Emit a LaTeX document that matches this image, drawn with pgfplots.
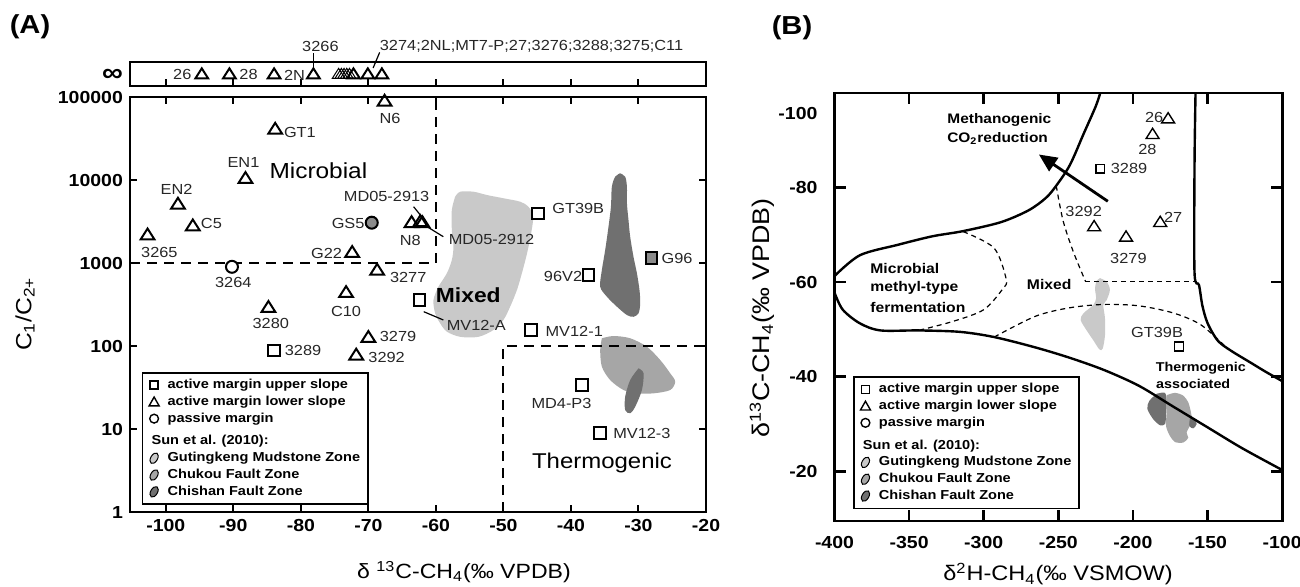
\documentclass[border=0pt]{standalone}
\usepackage{fontspec}
\setmainfont{Liberation Sans}[FakeStretch=1.12]
\usepackage{pgfplots}
\pgfplotsset{compat=1.18}
\usetikzlibrary{arrows.meta}

\definecolor{lightg}{gray}{0.79}
\definecolor{midg}{gray}{0.65}
\definecolor{darkg}{gray}{0.44}
\definecolor{markg}{gray}{0.55}
\newcommand{\fs}[1]{\fontsize{#1}{#1}\selectfont}

\tikzset{lab/.style={font=\fs{7.3}, inner sep=0.5pt, text=black!85}}
\pgfplotsset{
  panel/.style={scale only axis, axis line style={line width=1.4pt},
    tick style={line width=1pt, black}, major tick length=3.5pt, tick align=inside,
    ticklabel style={font=\bfseries\fs{8.7}}},
  otri/.style={only marks, mark=triangle, mark size=3.6pt,
    mark options={solid, draw=black, fill=white, line width=1pt, xscale=1.1}},
  gtri/.style={only marks, mark=triangle, mark size=3.6pt,
    mark options={solid, draw=black, fill=markg, line width=1pt, xscale=1.1}},
  osq/.style={only marks, mark=square, mark size=2.9pt,
    mark options={solid, draw=black, fill=white, line width=1pt}},
  gsq/.style={only marks, mark=square*, mark size=2.9pt,
    mark options={solid, draw=black, fill=markg, line width=1pt}},
  ocirc/.style={only marks, mark=*, mark size=3pt,
    mark options={solid, draw=black, fill=white, line width=1pt}},
  gcirc/.style={only marks, mark=*, mark size=3pt,
    mark options={solid, draw=black, fill=markg, line width=1pt}},
  mylegend/.style={legend style={draw=black, line width=0.9pt, fill=white,
    font=\bfseries\fs{6.5}, legend cell align=left, inner xsep=3pt, inner ysep=2pt,
    row sep=0pt, nodes={inner sep=0.9pt, text height=5pt, text depth=1.6pt},
    /tikz/every odd column/.append style={column sep=3pt}}},
}

% legend entries shared by both panels
\newcommand{\samplelegend}{%
  \addlegendimage{legend image code/.code={\draw[black,line width=0.7pt] (0.5pt,-2pt) rectangle (4.5pt,2pt);}}
  \addlegendentry{active margin upper slope}
  \addlegendimage{legend image code/.code={\draw[black,line width=0.7pt] (0pt,-2pt) -- (5pt,-2pt) -- (2.5pt,2.4pt) -- cycle;}}
  \addlegendentry{active margin lower slope}
  \addlegendimage{legend image code/.code={\draw[black,line width=0.7pt] (2.5pt,0pt) circle (2.2pt);}}
  \addlegendentry{passive margin}
  \addlegendimage{empty legend}
  \addlegendentry[text height=8pt]{\hspace*{-8pt}Sun et al. (2010):}
  \addlegendimage{legend image code/.code={\draw[black,line width=0.5pt,fill=lightg,rotate around={60:(2.5pt,0pt)}] (2.5pt,0pt) ellipse (2.9pt and 1.7pt);}}
  \addlegendentry{Gutingkeng Mudstone Zone}
  \addlegendimage{legend image code/.code={\draw[black,line width=0.5pt,fill=midg,rotate around={60:(2.5pt,0pt)}] (2.5pt,0pt) ellipse (2.9pt and 1.7pt);}}
  \addlegendentry{Chukou Fault Zone}
  \addlegendimage{legend image code/.code={\draw[black,line width=0.5pt,fill=darkg,rotate around={60:(2.5pt,0pt)}] (2.5pt,0pt) ellipse (2.9pt and 1.7pt);}}
  \addlegendentry{Chishan Fault Zone}
}

\begin{document}
\begin{tikzpicture}
\path[use as bounding box] (0,0) rectangle (650pt,-293pt);

\node[font=\bfseries\fs{13}] at (15pt,-13.5pt) {(A)};
\node[font=\bfseries\fs{13}] at (396pt,-14pt) {(B)};

% ---------------- panel A, infinity strip ----------------
\begin{axis}[panel, at={(65pt,-31pt)}, anchor=north west, width=288pt, height=12pt,
  xmin=-105.3, xmax=-20, ymin=0, ymax=1, clip=false,
  xtick={-100,-90,-80,-70,-60,-50,-40,-30,-20}, xticklabels={}, xtick pos=left,
  ytick={0.46}, yticklabels={\fs{13}∞}, ytick style={draw=none},
  axis line style={line width=1.2pt}]
\addplot[otri, mark size=3.3pt] coordinates {(-94.67,0.46) (-90.58,0.46) (-83.96,0.46) (-78.14,0.46)};
% overlapping samples: only their left edges show
\addplot[otri, mark size=3.3pt, mark options={solid, draw=black, fill=white, line width=0.5pt, xscale=1.1}]
  coordinates {(-74.4,0.46) (-74.0,0.46) (-73.6,0.46) (-73.2,0.46) (-72.8,0.46)};
\addplot[otri, mark size=3.3pt] coordinates {(-72.21,0.46) (-70.08,0.46) (-68.0,0.46)};
\node[lab, anchor=east] at (axis cs:-96.0,0.46) {26};
\node[lab, anchor=west] at (axis cs:-89.3,0.46) {28};
\node[lab, anchor=west] at (axis cs:-82.7,0.46) {2N};
\node[lab] at (axis cs:-77.1,1.64) {3266};
\node[lab, anchor=west] at (axis cs:-68.5,1.64) {3274;2NL;MT7-P;27;3276;3288;3275;C11};
\draw[line width=0.6pt] (axis cs:-78.14,1.36) -- (axis cs:-78.14,0.75);
\draw[line width=0.6pt] (axis cs:-68.33,1.40) -- (axis cs:-69.3,0.75);
\end{axis}

% ---------------- panel A, main ----------------
\begin{axis}[panel, at={(65pt,-48.5pt)}, anchor=north west, width=288pt, height=207.5pt,
  xmin=-105.3, xmax=-20, ymode=log, ymin=1, ymax=100000, clip=false,
  xtick={-100,-90,-80,-70,-60,-50,-40,-30,-20},
  xticklabels={-100,-90,-80,-70,-60,-50,-40,-30,-20},
  ytick={1,10,100,1000,10000,100000}, yticklabels={1,10,100,1000,10000,100000},
  ytick pos=both, yticklabel pos=left, yminorticks=false,
  mylegend, legend style={at={(0.02,0.338)}, anchor=north west}]
\samplelegend
% Sun et al. (2010) fields
\addplot[fill=lightg, draw=none, smooth] coordinates {(-57.15,6295) (-56.4,7230) (-54.44,7230) (-52.45,6595)
  (-49.99,6025) (-47.52,5480) (-46.29,4765) (-45.6,3610) (-45.9,2280) (-46.5,1309) (-47.27,751) (-48.0,473)
  (-49.0,298) (-50.0,206) (-51.47,156) (-53.7,129) (-56.4,129) (-58.38,149) (-59.37,188) (-60.11,248)
  (-60.36,358) (-59.62,518) (-58.38,751) (-57.64,1087) (-57.4,1572) (-57.64,2500) (-57.64,4350) (-57.15,6295)};
\addplot[fill=darkg, draw=none, smooth] coordinates {(-32.71,12050) (-31.97,10960) (-31.71,8300) (-31.71,5240)
  (-31.48,3297) (-31.23,2075) (-30.74,1191) (-30.23,751) (-29.85,473) (-29.74,327) (-29.99,248) (-30.74,225)
  (-31.71,236) (-33.2,298) (-34.68,393) (-35.67,518) (-35.42,824) (-34.93,1434) (-34.44,2737) (-34.08,4765)
  (-33.94,8300) (-33.45,10960) (-32.71,12050)};
\addplot[fill=midg, draw=none, smooth] coordinates {(-35.42,124) (-33.70,132) (-31.23,124) (-28.75,98)
  (-26.78,67.8) (-25.30,46.9) (-24.56,37.2) (-25.30,29.5) (-27.77,26.9) (-30.23,26.9) (-32.22,29.5)
  (-34.19,38.9) (-35.42,56.3) (-35.67,89.5) (-35.42,124)};
\addplot[fill=darkg, draw=none, smooth] coordinates {(-29.99,53.9) (-29.25,46.9) (-29.49,29.5) (-30.48,18.6)
  (-31.23,15.5) (-31.97,16.9) (-31.97,24.5) (-31.23,38.9) (-29.99,53.9)};
% genetic field boundaries
\addplot[black, line width=1pt, dash pattern=on 5pt off 3.5pt] coordinates {(-105.3,1000) (-60,1000) (-60,100000)};
\addplot[black, line width=1pt, dash pattern=on 5pt off 3.5pt] coordinates {(-50,1) (-50,100) (-20,100)};
% leader lines
\draw[line width=0.6pt] (axis cs:-63.3,4770) -- (axis cs:-62.1,3610);
\draw[line width=0.6pt] (axis cs:-61.3,2737) -- (axis cs:-58.9,2075);
\draw[line width=0.6pt] (axis cs:-61.8,259) -- (axis cs:-58.9,206);
% samples
\addplot[otri] coordinates {(-83.8,40000) (-88.2,10200) (-98.2,5000) (-96,2740) (-102.7,2130)
  (-68.7,800) (-73.3,431) (-84.8,285) (-70,124) (-71.8,76)};
\addplot[gtri] coordinates {(-67.6,87000) (-63.6,3000) (-62.3,3080) (-62.0,3000) (-72.4,1310)};
\addplot[osq] coordinates {(-62.4,358) (-84,88) (-44.9,3970) (-37.4,717) (-45.9,156) (-38.4,34) (-35.7,8.9)};
\addplot[gsq] coordinates {(-28.1,1140)};
\addplot[ocirc] coordinates {(-90.2,900)};
\addplot[gcirc] coordinates {(-69.5,3060)};
% labels
\node[lab] at (axis cs:-66.8,55400) {N6};
\node[lab, anchor=west] at (axis cs:-82.7,37200) {GT1};
\node[lab] at (axis cs:-88.5,16150) {EN1};
\node[font=\fs{10.9}] at (axis cs:-77.4,12830) {Microbial};
\node[lab] at (axis cs:-98.4,7725) {EN2};
\node[lab, anchor=west] at (axis cs:-95.0,3010) {C5};
\node[lab] at (axis cs:-100.95,1331) {3265};
\node[lab] at (axis cs:-90,579) {3264};
\node[lab, anchor=east] at (axis cs:-70.37,3010) {GS5};
\node[lab] at (axis cs:-67.3,6415) {MD05-2913};
\node[lab] at (axis cs:-63.8,1892) {N8};
\node[lab, anchor=west] at (axis cs:-58.3,1930) {MD05-2912};
\node[lab, anchor=east] at (axis cs:-73.7,1310) {G22};
\node[lab, anchor=west] at (axis cs:-67.0,665) {3277};
\node[lab] at (axis cs:-73.3,264) {C10};
\node[lab] at (axis cs:-84.45,188) {3280};
\node[lab, anchor=west] at (axis cs:-82.58,87.8) {3289};
\node[lab, anchor=west] at (axis cs:-68.5,129.5) {3279};
\node[lab, anchor=west] at (axis cs:-70.2,73) {3292};
\node[lab, anchor=west] at (axis cs:-58.6,179) {MV12-A};
\node[font=\bfseries\fs{10.2}] at (axis cs:-55.2,411) {Mixed};
\node[lab, anchor=west] at (axis cs:-42.97,4560) {GT39B};
\node[lab, anchor=east] at (axis cs:-38.14,684) {96V2};
\node[lab, anchor=west] at (axis cs:-26.78,1140) {G96};
\node[lab, anchor=west] at (axis cs:-43.96,152) {MV12-1};
\node[lab] at (axis cs:-41.4,20.4) {MD4-P3};
\node[lab, anchor=west] at (axis cs:-33.94,8.9) {MV12-3};
\node[font=\fs{10.7}] at (axis cs:-35.4,3.86) {Thermogenic};
\end{axis}

\node[rotate=90, font=\fs{11}] at (12.5pt,-157pt) {C\textsubscript{1}/C\textsubscript{2+}};
\node[font=\fs{10.3}] at (232pt,-286pt) {δ \textsuperscript{13}C-CH\textsubscript{4}(‰ VPDB)};

% ---------------- panel B ----------------
\begin{axis}[panel, at={(417.25pt,-46.5pt)}, anchor=north west, width=223.8pt, height=214pt,
  xmin=-400, xmax=-100, ymin=-100, ymax=-9.5, y dir=reverse,
  xtick={-400,-350,-300,-250,-200,-150,-100},
  xticklabels={-400,-350,-300,-250,-200,-150,-100},
  ytick={-80,-60,-40,-20}, yticklabels={-80,-60,-40,-20},
  extra y ticks={-100}, extra y tick labels={-100},
  extra y tick style={yticklabel style={yshift=-10pt}},
  major tick length=5.5pt, tick style={line width=1.3pt, black},
  xticklabel style={yshift=-4pt}, yticklabel style={xshift=-5pt},
  mylegend, legend style={at={(0.041,0.339)}, anchor=north west}]
\samplelegend
% Sun et al. (2010) fields
\addplot[fill=lightg, draw=none, smooth] coordinates {(-222.0,-60.85) (-217.6,-60.1) (-215.4,-58.4) (-217.6,-56.2)
  (-219.8,-55.2) (-218.7,-52.3) (-218.7,-48.8) (-220.3,-45.9) (-222.5,-45.8) (-226.5,-47.7) (-231.0,-49.8)
  (-235.0,-52.0) (-233.2,-53.4) (-226.5,-55.2) (-224.7,-56.6) (-225.4,-58.7) (-224.3,-60.3) (-222.0,-60.85)};
\addplot[fill=darkg, draw=none, smooth] coordinates {(-184.1,-36.4) (-178.5,-36.6) (-177.4,-34.6) (-177.8,-31.7)
  (-178.5,-30.0) (-181.8,-29.75) (-186.3,-31.0) (-190.3,-33.2) (-189.0,-34.9) (-184.1,-36.4)};
\addplot[fill=midg, draw=none, smooth] coordinates {(-177.4,-36.1) (-171.8,-36.6) (-166.2,-36.0) (-162.9,-34.6)
  (-161.3,-32.8) (-160.6,-31.7) (-161.3,-30.0) (-164.0,-28.2) (-162.9,-27.1) (-166.2,-26.1) (-171.8,-26.2)
  (-175.2,-27.5) (-177.8,-29.6) (-177.4,-32.5) (-177.8,-34.6) (-177.4,-36.1)};
\addplot[fill=darkg, draw=none, smooth] coordinates {(-161.7,-31.4) (-158.4,-31.0) (-157.3,-30.0) (-159.5,-29.1)
  (-162.2,-29.6) (-161.7,-31.4)};
% field boundaries
\addplot[black, line width=1.2pt, smooth] coordinates {(-400,-61.3) (-383.0,-65.7) (-357.6,-67.9) (-334.5,-69.7)
  (-313.8,-70.8) (-288.4,-72.7) (-269.9,-75.2) (-258.4,-77.8) (-251.4,-80.4) (-242.2,-84.8) (-233.0,-91.4)
  (-224.9,-97.2) (-221.4,-100.5)};
\addplot[black, line width=1.2pt, smooth] coordinates {(-400,-57.8) (-394.5,-54.2) (-383.0,-51.3) (-369.2,-49.8)
  (-343.8,-49.8) (-316.1,-49.5) (-293.0,-48.4) (-265.3,-46.2) (-242.2,-44.0) (-219.1,-41.4) (-196.0,-38.1)
  (-173.0,-33.7) (-149.9,-29.3) (-126.8,-24.9) (-100,-20.3)};
\addplot[black, line width=1.2pt, smooth] coordinates {(-158.0,-100.5) (-158.7,-84.8) (-158.7,-62.0) (-155.7,-59.4)
  (-153.4,-55.0) (-149.9,-51.3) (-143.0,-47.6) (-133.7,-45.4) (-122.2,-43.2) (-110.7,-41.0) (-100,-39.1)};
\addplot[black, line width=0.6pt, dash pattern=on 2.5pt off 2pt, smooth] coordinates {(-313.8,-70.7) (-293.0,-67.2)
  (-284.9,-60.6) (-287.2,-58.6) (-299.9,-54.2) (-320.7,-51.7) (-343.8,-49.8)};
\addplot[black, line width=0.6pt, dash pattern=on 2.5pt off 2pt, smooth] coordinates {(-251.4,-80.4) (-246.8,-73.0)
  (-239.9,-66.4) (-231.8,-60.2)};
\addplot[black, line width=0.6pt, dash pattern=on 2.5pt off 2pt] coordinates {(-231.8,-60.1) (-158.7,-60.1)};
\addplot[black, line width=0.6pt, dash pattern=on 2.5pt off 2pt, smooth] coordinates {(-293.0,-48.4) (-265.3,-52.8)
  (-242.2,-54.6) (-219.1,-55.3) (-196.0,-55.0) (-173.0,-53.5) (-154.5,-51.0) (-138.4,-46.5)};
\draw[line width=1.4pt, -{Triangle[length=9pt, width=8pt]}] (axis cs:-216.8,-77.1) -- (axis cs:-263.0,-87.0);
% samples
\addplot[otri, mark size=3.4pt, mark options={solid, draw=black, fill=white, line width=0.7pt, xscale=1.1}]
  coordinates {(-176.4,-94.4) (-186.8,-91.1) (-226.0,-71.6) (-204.6,-69.4) (-181.7,-72.5)};
\addplot[osq, mark size=2.2pt, mark options={solid, draw=black, fill=white, line width=0.7pt}]
  coordinates {(-221.9,-84.0) (-169.0,-46.4)};
% labels
\node[lab] at (axis cs:-185.7,-94.9) {26};
\node[lab] at (axis cs:-190.3,-88.1) {28};
\node[lab, anchor=west] at (axis cs:-215.7,-84.0) {3289};
\node[lab] at (axis cs:-233.0,-75.0) {3292};
\node[lab] at (axis cs:-203.0,-65.1) {3279};
\node[lab] at (axis cs:-173.0,-73.8) {27};
\node[lab] at (axis cs:-183.8,-49.4) {GT39B};
\node[font=\bfseries\fs{6.9}] at (axis cs:-289.5,-94.4) {Methanogenic};
\node[font=\bfseries\fs{6.9}] at (axis cs:-290.7,-90.3) {CO\textsubscript{2}reduction};
\node[font=\bfseries\fs{7}, anchor=west] at (axis cs:-380.7,-62.8) {Microbial};
\node[font=\bfseries\fs{7}, anchor=west] at (axis cs:-380.7,-58.8) {methyl-type};
\node[font=\bfseries\fs{7}, anchor=west] at (axis cs:-380.7,-54.7) {fermentation};
\node[font=\bfseries\fs{7}] at (axis cs:-256.1,-59.5) {Mixed};
\node[font=\bfseries\fs{6.4}] at (axis cs:-154.5,-41.9) {Thermogenic};
\node[font=\bfseries\fs{6.4}] at (axis cs:-159.6,-38.5) {associated};
\end{axis}

\node[rotate=90, font=\fs{12}] at (381pt,-159pt) {δ\textsuperscript{13}C-CH\textsubscript{4}(‰ VPDB)};
\node[font=\fs{10.5}] at (529pt,-287pt) {δ\textsuperscript{2}H-CH\textsubscript{4}(‰ VSMOW)};
\end{tikzpicture}
\end{document}
